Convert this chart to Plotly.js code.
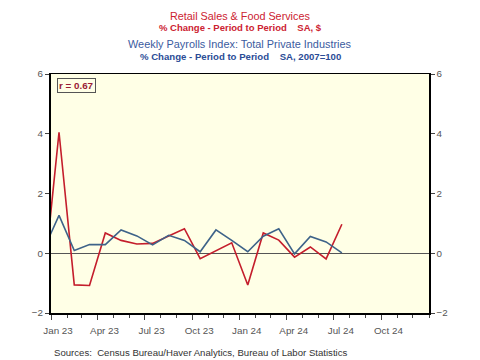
<!DOCTYPE html>
<html>
<head>
<meta charset="utf-8">
<script src="https://cdn.plot.ly/plotly-3.0.1.min.js"></script>
<style>html,body{margin:0;padding:0;background:#fff}#chart{width:480px;height:360px}</style>
</head>
<body>
<div id="chart"></div>
<script>
// Monthly observations (Dec 2022 - Jul 2024)
const months = ["2022-12","2023-01","2023-02","2023-03","2023-04","2023-05","2023-06","2023-07","2023-08","2023-09","2023-10","2023-11","2023-12","2024-01","2024-02","2024-03","2024-04","2024-05","2024-06","2024-07"];
const retailSales = [-1.2, 4.05, -1.06, -1.08, 0.68, 0.43, 0.31, 0.33, 0.58, 0.82, -0.18, 0.08, 0.35, -1.06, 0.68, 0.44, -0.13, 0.21, -0.19, 0.97];
const weeklyPayrolls = [0.08, 1.27, 0.09, 0.29, 0.29, 0.78, 0.58, 0.28, 0.6, 0.43, 0.05, 0.78, 0.43, 0.05, 0.57, 0.82, -0.02, 0.56, 0.38, 0.01];
const tickDates = ["2023-01-01","2023-04-01","2023-07-01","2023-10-01","2024-01-01","2024-04-01","2024-07-01","2024-10-01"];
const tickLabels = ["Jan 23","Apr 23","Jul 23","Oct 23","Jan 24","Apr 24","Jul 24","Oct 24"];
const yTicks = [-2, 0, 2, 4, 6];

const red = "#C41E2C", blue = "#3E6389";
const traces = [
  {x: months, y: retailSales, type: "scatter", mode: "lines", xperiod: "M1", xperiodalignment: "middle",
   line: {color: red, width: 1.6}, hoverinfo: "skip"},
  {x: months, y: weeklyPayrolls, type: "scatter", mode: "lines", xperiod: "M1", xperiodalignment: "middle",
   line: {color: blue, width: 1.6}, hoverinfo: "skip"},
  {x: [months[0]], y: [0], yaxis: "y2", type: "scatter", mode: "none", showlegend: false, hoverinfo: "skip"}
];

const FF = "Arial, Liberation Sans, sans-serif";
const tickFont = {family: FF, size: 9.8, color: "#555"};
const layout = {
  width: 480, height: 360,
  margin: {l: 51, r: 51, t: 74, b: 47},
  paper_bgcolor: "#ffffff", plot_bgcolor: "#FFFFE6",
  showlegend: false,
  xaxis: {
    type: "date", range: ["2023-01-01", "2025-01-01"],
    tickvals: tickDates, ticktext: tickLabels,
    ticks: "outside", ticklen: 5, tickcolor: "#444", tickwidth: 1,
    ticklabelshift: 7, ticklabelstandoff: 3,
    minor: {dtick: "M1", tick0: "2023-01-01", ticks: "outside", ticklen: 3, tickcolor: "#444", showgrid: false},
    showgrid: false, zeroline: false,
    showline: true, linecolor: "#000", linewidth: 1.5, mirror: true,
    tickfont: tickFont
  },
  yaxis: {
    range: [-2, 6], tickvals: yTicks, ticks: "outside", ticklen: 4, tickcolor: "#444",
    showgrid: false, zeroline: true, zerolinecolor: "#555", zerolinewidth: 1,
    showline: true, linecolor: "#000", linewidth: 2, mirror: true,
    tickfont: tickFont
  },
  yaxis2: {
    range: [-2, 6], tickvals: yTicks, ticks: "outside", ticklen: 4, tickcolor: "#444",
    overlaying: "y", side: "right", showgrid: false, zeroline: false,
    showline: true, linecolor: "#000", linewidth: 1.5,
    tickfont: tickFont
  },
  annotations: [
    {text: "Retail Sales & Food Services", xref: "paper", yref: "paper", x: 0.5, y: 1.2427, yanchor: "middle", showarrow: false,
     font: {family: FF, size: 10.8, color: "#CC2231"}},
    {text: "<b>% Change - Period to Period    SA, $</b>", xref: "paper", yref: "paper", x: 0.5, y: 1.1925, yanchor: "middle", showarrow: false,
     font: {family: FF, size: 9.5, color: "#CC2231"}},
    {text: "Weekly Payrolls Index: Total Private Industries", xref: "paper", yref: "paper", x: 0.5, y: 1.1255, yanchor: "middle", showarrow: false,
     font: {family: FF, size: 10.9, color: "#3B5BA0"}},
    {text: "<b>% Change - Period to Period    SA, 2007=100</b>", xref: "paper", yref: "paper", x: 0.5, y: 1.0753, yanchor: "middle", showarrow: false,
     font: {family: FF, size: 9.6, color: "#2A4C96"}},
    {text: "<b>r = 0.67</b>", xref: "paper", yref: "paper", x: 0.016, y: 0.985, xanchor: "left", yanchor: "top", showarrow: false,
     bgcolor: "#FFFFE6", bordercolor: "#555", borderwidth: 1, borderpad: 1,
     font: {family: FF, size: 9.8, color: "#9A1B35"}},
    {text: "Sources:  Census Bureau/Haver Analytics, Bureau of Labor Statistics", xref: "paper", yref: "paper", x: 0.003, y: -0.167, xanchor: "left", yanchor: "middle", showarrow: false,
     font: {family: FF, size: 9.6, color: "#333"}}
  ]
};

Plotly.newPlot("chart", traces, layout, {staticPlot: true, displayModeBar: false});
</script>
</body>
</html>
